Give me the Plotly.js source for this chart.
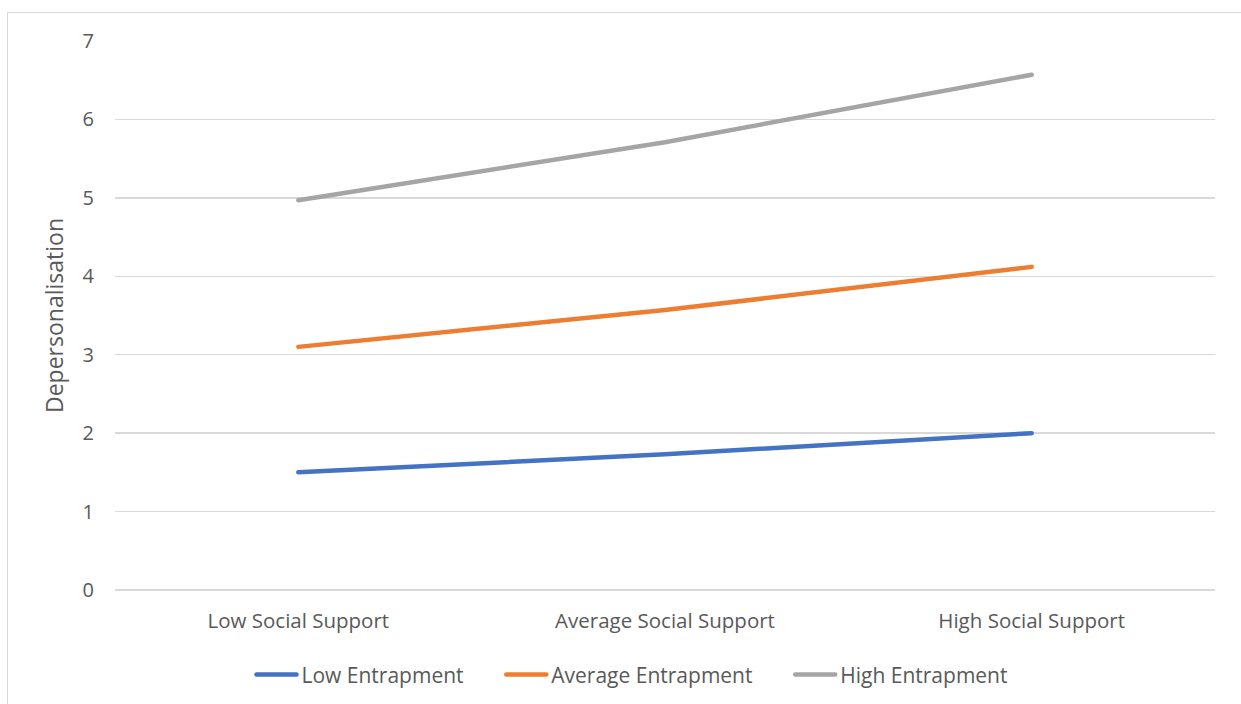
<!DOCTYPE html>
<html>
<head>
<meta charset="utf-8">
<script src="https://cdn.plot.ly/plotly-3.0.1.min.js"></script>
<style>
  html, body { margin: 0; padding: 0; background: #ffffff; overflow: hidden; }
  #frame { position: absolute; left: 7px; top: 12px; width: 1245px; height: 700px; border: 1px solid #d9d9d9; box-sizing: border-box; pointer-events: none; }
  #chart { position: absolute; left: 0; top: 0; width: 1241px; height: 704px; }
  .scatterlayer path.js-line, .legend path.js-line { stroke-linecap: round; }
</style>
</head>
<body>
<div id="chart"></div>
<div id="frame"></div>
<script>
// Social support levels on the x axis
const categories = ["Low Social Support", "Average Social Support", "High Social Support"];

// Depersonalisation by entrapment level
const lowEntrapment = [1.50, 1.73, 2.00];
const averageEntrapment = [3.10, 3.57, 4.12];
const highEntrapment = [4.97, 5.71, 6.57];

const seriesNames = ["Low Entrapment", "Average Entrapment", "High Entrapment"];
const seriesColors = ["#4472C4", "#ED7D31", "#A5A5A5"];
const seriesValues = [lowEntrapment, averageEntrapment, highEntrapment];

const textColor = "#595959";
const fontFamily = "'Open Sans', Lato, sans-serif";
// extra space after each legend entry except the last
const legendGap = "\u00a0\u00a0\u00a0\u00a0\u00a0\u00a0";

const traces = seriesValues.map((vals, i) => ({
  type: "scatter",
  mode: "lines",
  x: categories,
  y: vals,
  name: seriesNames[i] + (i < seriesNames.length - 1 ? legendGap : ""),
  line: { color: seriesColors[i], width: 4.5 },
  cliponaxis: false,
  hoverinfo: "x+y+name"
}));

const layout = {
  width: 1241,
  height: 704,
  margin: { l: 115, r: 26, t: 41, b: 114, autoexpand: false },
  paper_bgcolor: "#ffffff",
  plot_bgcolor: "#ffffff",
  font: { family: fontFamily, color: textColor, size: 20 },
  showlegend: true,
  legend: {
    orientation: "h",
    x: 0.47, xanchor: "center",
    y: -0.117, yanchor: "top",
    font: { size: 21, color: textColor },
    itemwidth: 40,
    tracegroupgap: 0
  },
  xaxis: {
    type: "category",
    range: [-0.5, 2.5],
    showgrid: false,
    zeroline: false,
    showline: false,
    ticks: "",
    ticklabelstandoff: 16,
    tickfont: { size: 20.5, color: textColor },
    fixedrange: true
  },
  yaxis: {
    range: [0, 7],
    dtick: 1,
    showgrid: true,
    gridcolor: "#d9d9d9",
    gridwidth: 1.3,
    zeroline: true,
    zerolinecolor: "#d9d9d9",
    zerolinewidth: 1.3,
    showline: false,
    ticks: "",
    ticklabelstandoff: 20,
    tickfont: { size: 20, color: textColor },
    title: { text: "Depersonalisation", font: { size: 23, color: textColor }, standoff: 12 },
    fixedrange: true
  }
};

Plotly.newPlot("chart", traces, layout, { displayModeBar: false, staticPlot: true });
</script>
</body>
</html>
